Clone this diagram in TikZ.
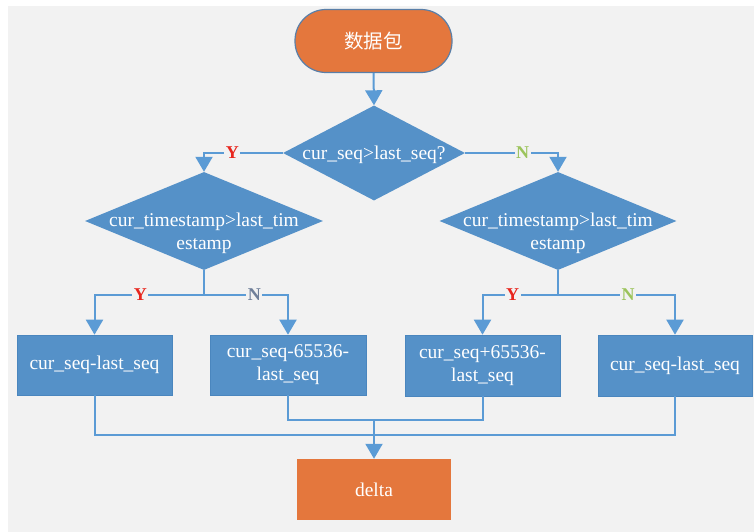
\documentclass[tikz,border=0pt]{standalone}
\usepackage{fontspec}
\setmainfont{Liberation Serif}
\newfontfamily\cjk{Noto Sans CJK SC}
\usetikzlibrary{shapes.geometric,arrows.meta}
\definecolor{bg}{HTML}{F2F2F2}
\definecolor{boxblue}{HTML}{5591C8}
\definecolor{edgeblue}{HTML}{4A86BE}
\definecolor{lineblue}{HTML}{5B9BD5}
\definecolor{orng}{HTML}{E4773D}
\definecolor{termedge}{HTML}{5A7FA8}
\definecolor{yred}{HTML}{E8261E}
\definecolor{ngreen}{HTML}{9CC45C}
\definecolor{ngray}{HTML}{6F7F99}
\tikzset{
  txt/.style={text=white,font=\fontsize{19.5}{23}\selectfont,align=center},
  procbox/.style={rectangle,fill=boxblue,draw=edgeblue,line width=0.6pt,inner sep=0pt},
  decide/.style={diamond,fill=boxblue,draw=none,inner sep=0pt},
  term/.style={rectangle,rounded corners=31pt,fill=orng,draw=termedge,line width=1.2pt,minimum width=157pt,minimum height=63pt},
  endbox/.style={rectangle,fill=orng,draw=none,minimum width=154pt,minimum height=61pt},
  conn/.style={draw=lineblue,line width=2pt},
  arr/.style={conn,-{Triangle[width=17pt,length=15pt]}},
  lab/.style={fill=bg,inner sep=1.5pt,font=\fontsize{18}{20}\selectfont\bfseries},
}
\begin{document}
\begin{tikzpicture}[x=1pt,y=-1pt]
\useasboundingbox (0,0) rectangle (754,532);
\fill[white] (0,0) rectangle (754,532);
\fill[bg] (8,6) rectangle (754,532);

\node[term,txt] (start) at (373.5,41) {\cjk 数据包};
\node[decide,minimum width=182pt,minimum height=95pt] (d1) at (374,153) {};
\node[txt] (t1) at ([yshift=-2pt]d1.center) {cur\_seq>last\_seq?};
\node[decide,minimum width=238pt,minimum height=98pt] (d2) at (204,221) {};
\node[txt] (t2) at ([yshift=-12pt]d2.center) {cur\_timestamp>last\_tim\\estamp};
\node[decide,minimum width=237pt,minimum height=98pt] (d3) at (558,221) {};
\node[txt] (t3) at ([yshift=-12pt]d3.center) {cur\_timestamp>last\_tim\\estamp};

\node[procbox,txt,minimum width=155pt,minimum height=60pt] (b1) at (94.5,365) {cur\_seq-last\_seq};
\node[procbox,txt,minimum width=156pt,minimum height=60pt] (b2) at (288,365) {cur\_seq-65536-\\last\_seq};
\node[procbox,txt,minimum width=155pt,minimum height=61pt] (b3) at (482.5,365.5) {cur\_seq+65536-\\last\_seq};
\node[procbox,txt,minimum width=154pt,minimum height=61pt] (b4) at (675,365.5) {cur\_seq-last\_seq};
\node[endbox,txt] (delta) at (374,489.5) {delta};

\coordinate (j2) at (204,295);
\coordinate (j3) at (558,295);
\coordinate (m1) at (374,420);

\draw[arr] (start.south) -- (d1.north);
\draw[arr] (d1.west) -| node[lab,text=yred,pos=0.32] {Y} (d2.north);
\draw[arr] (d1.east) -| node[lab,text=ngreen,pos=0.31] {N} (d3.north);

\draw[conn] (d2.south) -- (j2);
\draw[arr] (j2) -| node[lab,text=yred,pos=0.29] {Y} (b1.north);
\draw[arr] (j2) -| node[lab,text=ngray,pos=0.3] {N} (b2.north);
\draw[conn] (d3.south) -- (j3);
\draw[arr] (j3) -| node[lab,text=yred,pos=0.3] {Y} (b3.north);
\draw[arr] (j3) -| node[lab,text=ngreen,pos=0.3] {N} (b4.north);

\draw[conn] (b2.south) |- (m1) -| (b3.south);
\draw[conn] (b1.south) |- (374,435) -| (b4.south);
\draw[arr] (m1) -- (delta.north);
\end{tikzpicture}
\end{document}
